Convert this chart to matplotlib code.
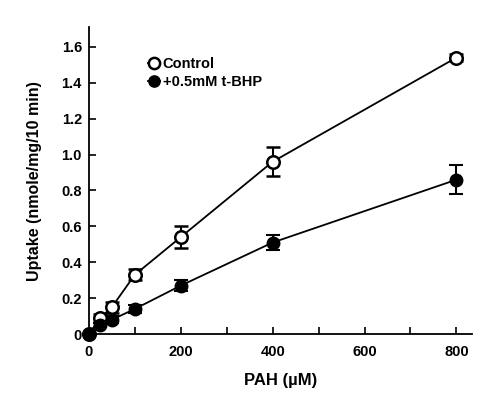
import matplotlib
matplotlib.use("Agg")
import matplotlib.pyplot as plt
from matplotlib.ticker import MultipleLocator, FuncFormatter

plt.rcParams['font.family'] = ['Liberation Sans', 'DejaVu Sans']
plt.rcParams['font.weight'] = 'bold'

# PAH concentration (uM)
pah = [0, 25, 50, 100, 200, 400, 800]
control = [0, 0.09, 0.15, 0.33, 0.54, 0.96, 1.54]
control_err = [0, 0.02, 0.03, 0.03, 0.06, 0.08, 0.02]
tbhp = [0, 0.05, 0.08, 0.14, 0.27, 0.51, 0.86]
tbhp_err = [0, 0.01, 0.02, 0.02, 0.03, 0.04, 0.08]

fig = plt.figure(figsize=(4.99, 4.04), dpi=100)
ax = fig.add_axes([0.178, 0.173, 0.768, 0.76])

ax.errorbar(pah, control, yerr=control_err, color='black', lw=1.3,
            marker='o', ms=9, mfc='white', mec='black', mew=1.8,
            capsize=5, capthick=1.5, elinewidth=1.5, clip_on=False,
            label='Control', zorder=3)
ax.errorbar(pah, tbhp, yerr=tbhp_err, color='black', lw=1.3,
            marker='o', ms=9, mfc='black', mec='black',
            capsize=5, capthick=1.5, elinewidth=1.5, clip_on=False,
            label='+0.5mM t-BHP', zorder=3)

ax.set_xlim(0, 834)
ax.set_ylim(0, 1.71)
ax.xaxis.set_major_locator(MultipleLocator(200))
ax.xaxis.set_minor_locator(MultipleLocator(100))
ax.yaxis.set_major_locator(MultipleLocator(0.2))
ax.yaxis.set_major_formatter(FuncFormatter(lambda v, p: '0' if abs(v) < 1e-9 else '%.1f' % v))

ax.tick_params(axis='both', which='both', direction='in', width=1.2, labelsize=10.5)
ax.tick_params(axis='both', which='major', length=5)
ax.tick_params(axis='x', which='minor', length=5)
ax.tick_params(axis='x', pad=8)
ax.tick_params(axis='y', pad=5)
ax.spines['top'].set_visible(False)
ax.spines['right'].set_visible(False)
ax.spines['left'].set_linewidth(1.3)
ax.spines['bottom'].set_linewidth(1.3)

ax.set_xlabel('PAH (\u00b5M)', fontsize=12, fontweight='bold', labelpad=10)
ax.set_ylabel('Uptake (nmole/mg/10 min)', fontsize=11.5, fontweight='bold', labelpad=14)

handles, labels = ax.get_legend_handles_labels()
handles = [h[0] for h in handles]
ax.legend(handles, labels, loc='upper left', bbox_to_anchor=(0.12, 0.945),
          frameon=False, fontsize=10.5, handletextpad=0.2, handlelength=0.8,
          labelspacing=0.3, markerscale=0.9)

fig.savefig('out.png', dpi=100)
